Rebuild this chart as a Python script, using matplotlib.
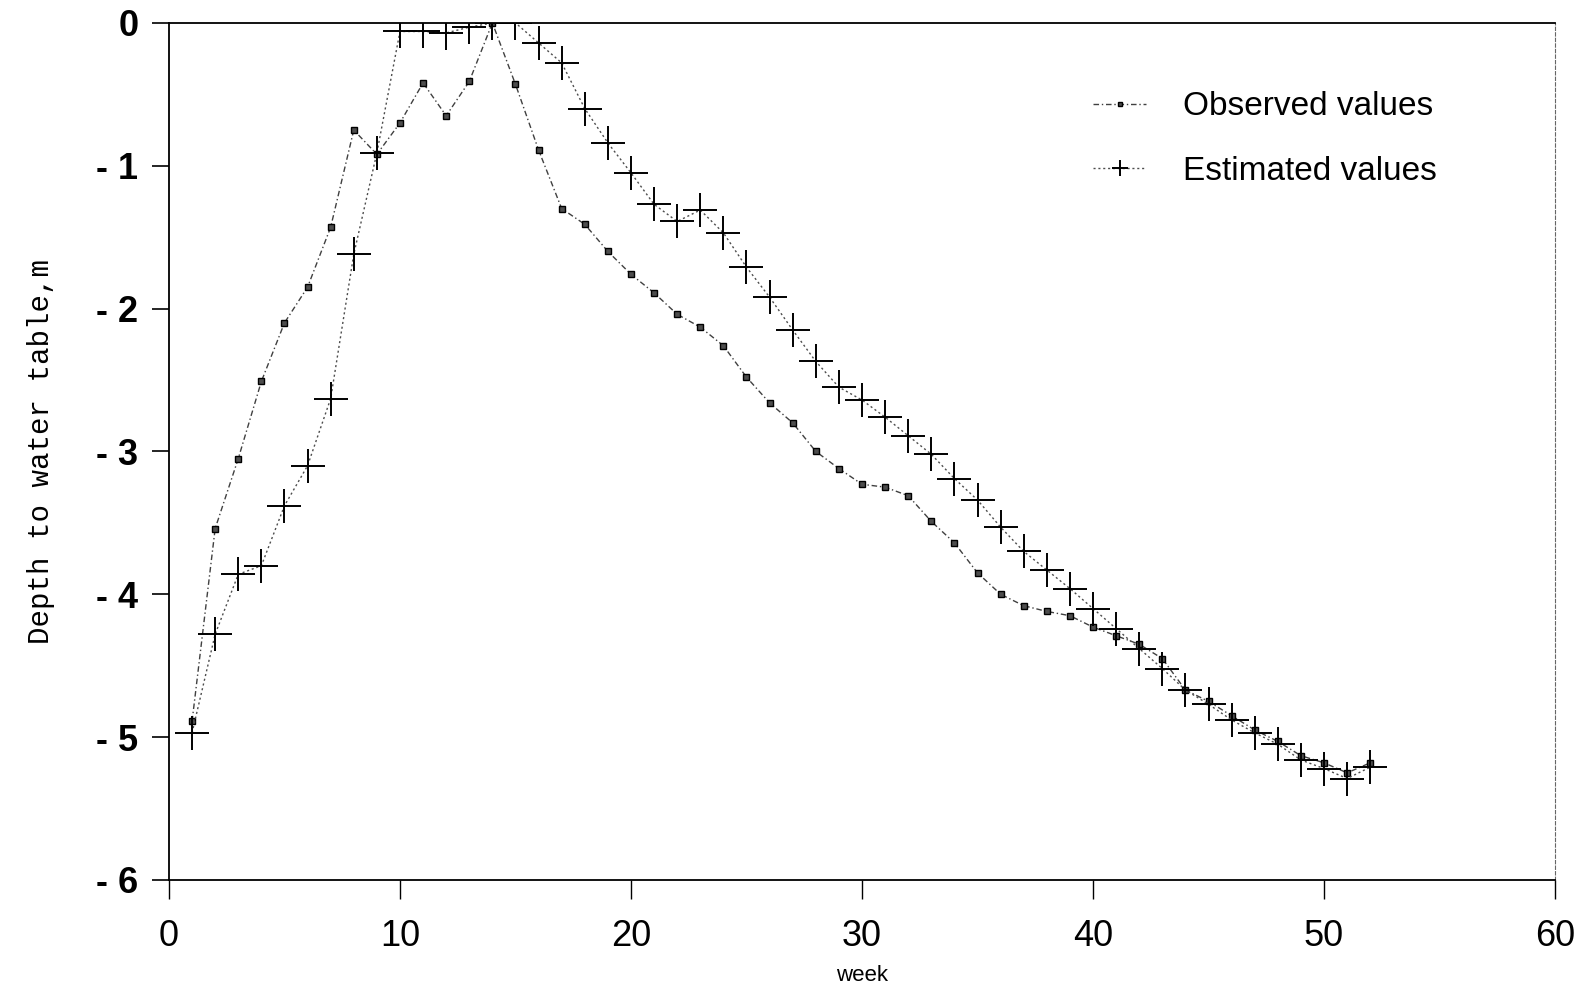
import matplotlib
matplotlib.use("Agg")
import matplotlib.pyplot as plt
from matplotlib.ticker import FuncFormatter

weeks = list(range(1, 53))

observed = [-4.89, -3.54, -3.05, -2.51, -2.10, -1.85, -1.43, -0.75, -0.92, -0.70,
            -0.42, -0.65, -0.41, 0.00, -0.43, -0.89, -1.30, -1.41, -1.60, -1.76,
            -1.89, -2.04, -2.13, -2.26, -2.48, -2.66, -2.80, -3.00, -3.12, -3.23,
            -3.25, -3.31, -3.49, -3.64, -3.85, -4.00, -4.08, -4.12, -4.15, -4.23,
            -4.29, -4.35, -4.45, -4.67, -4.75, -4.85, -4.95, -5.03, -5.13, -5.18,
            -5.25, -5.18]

estimated = [-4.97, -4.28, -3.86, -3.80, -3.38, -3.10, -2.63, -1.62, -0.91, -0.06,
             -0.06, -0.07, -0.03, 0.00, 0.00, -0.14, -0.28, -0.60, -0.84, -1.05,
             -1.27, -1.39, -1.31, -1.47, -1.71, -1.92, -2.15, -2.37, -2.55, -2.64,
             -2.76, -2.89, -3.02, -3.19, -3.34, -3.53, -3.70, -3.83, -3.96, -4.10,
             -4.24, -4.38, -4.52, -4.67, -4.77, -4.88, -4.97, -5.05, -5.16, -5.22,
             -5.29, -5.21]

x_ticks = [0, 10, 20, 30, 40, 50, 60]
y_ticks = [0, -1, -2, -3, -4, -5, -6]

fig = plt.figure(figsize=(15.85, 9.96), dpi=100)
ax = fig.add_axes([0.1066, 0.1165, 0.8745, 0.8605])

ax.plot(weeks, observed, color='0.25', lw=1.0, ls=(0, (4, 2, 1, 2)),
        marker='s', markersize=5, markerfacecolor='0.3', markeredgecolor='k',
        label='Observed values')
ax.plot(weeks, estimated, color='0.3', lw=1.0, ls=(0, (1.5, 2)),
        marker='+', markersize=24, markeredgewidth=1.4, markeredgecolor='k',
        label='Estimated values')

ax.set_xlim(0, 60)
ax.set_ylim(-6, 0)
ax.set_xticks(x_ticks)
ax.set_yticks(y_ticks)
ax.yaxis.set_major_formatter(FuncFormatter(lambda v, p: '0' if v == 0 else '- %d' % abs(v)))

ax.tick_params(axis='y', direction='out', length=12, width=1.2, pad=10,
               labelsize=26)
ax.tick_params(axis='x', direction='out', length=14, width=1.0, pad=14,
               labelsize=26)
for lab in ax.get_yticklabels():
    lab.set_fontweight('bold')
    lab.set_family('Liberation Sans')
for lab in ax.get_xticklabels():
    lab.set_family('Liberation Sans')

for side in ['left', 'bottom', 'top']:
    ax.spines[side].set_linewidth(1.3)
ax.spines['right'].set_linewidth(0.8)
ax.spines['right'].set_linestyle((0, (3, 2)))
ax.spines['right'].set_color('0.4')

ax.set_xlabel('week', fontsize=16, family='Liberation Sans', labelpad=8)
ax.set_ylabel('Depth to water table,m', fontsize=21, family='Liberation Mono',
              labelpad=30)

leg = ax.legend(loc='upper left', bbox_to_anchor=(0.645, 0.955), frameon=False,
                fontsize=24, handlelength=1.6, handletextpad=1.1,
                labelspacing=1.0, markerscale=0.5)
for t in leg.get_texts():
    t.set_family('Liberation Sans')

fig.savefig('out.png', dpi=100)
